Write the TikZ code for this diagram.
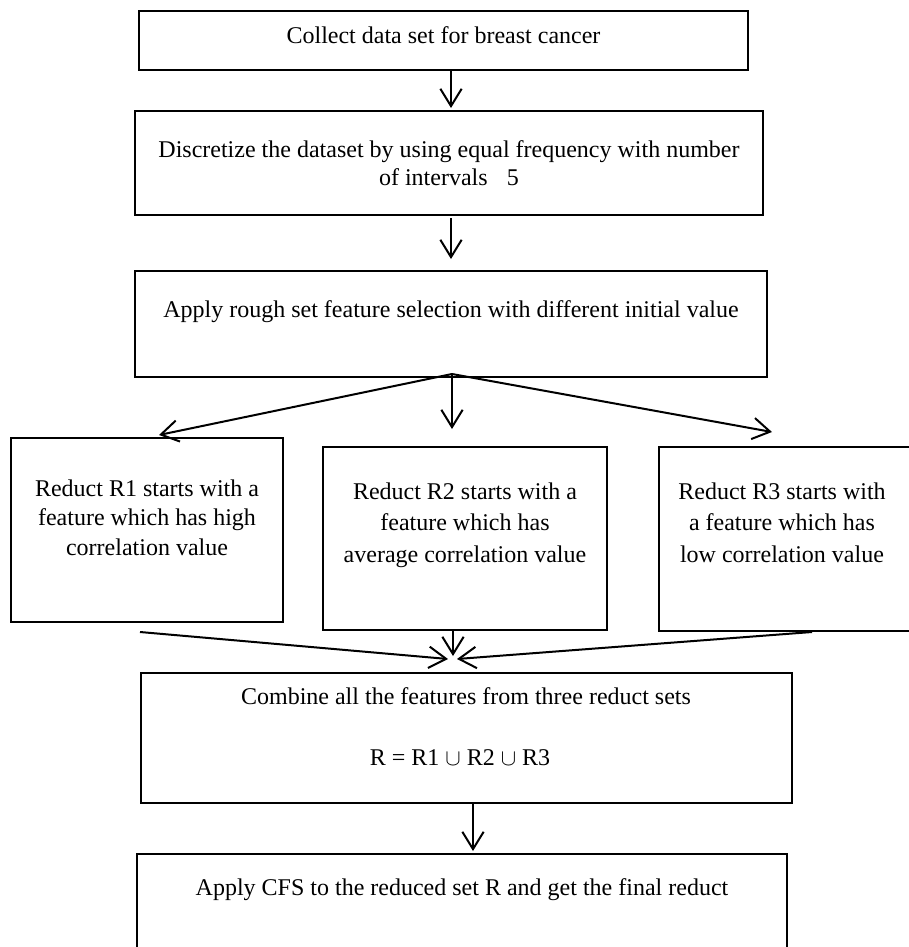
\documentclass[tikz,border=0pt]{standalone}
\usepackage{fontspec}
\setmainfont{Liberation Serif}
\usetikzlibrary{arrows.meta}
\begin{document}
\begin{tikzpicture}[x=0.75pt,y=-0.75pt,
  box/.style={draw, line width=1.4pt, inner sep=0pt, outer sep=0pt},
  txt/.style={inner sep=0pt, align=center, anchor=base, font=\fontsize{18pt}{21pt}\selectfont},
  arr/.style={line width=1.5pt, -{Straight Barb[length=13pt,width=16pt,line width=1.5pt]}},
  ln/.style={line width=1.5pt}]
\useasboundingbox (0,0) rectangle (909,947);
\clip (0,0) rectangle (909,947);
% boxes
\node[box, minimum width=456.75pt, minimum height=44.25pt] (b1) at (443.5,40.5) {};
\node[box, minimum width=471pt, minimum height=78pt] (b2) at (449,163) {};
\node[box, minimum width=474pt, minimum height=79.5pt] (b3) at (451,324) {};
\node[box, minimum width=204pt, minimum height=138pt] (r1) at (147,530) {};
\node[box, minimum width=213pt, minimum height=137.25pt] (r2) at (465,538.5) {};
\node[box, minimum width=189.75pt, minimum height=138pt] (r3) at (785.5,539) {};
\node[box, minimum width=488.25pt, minimum height=97.5pt] (c) at (466.5,738) {};
\node[box, minimum width=487.5pt, minimum height=79.5pt] (f) at (462,907) {};
% texts (base anchor = baseline of the last line)
\node[txt] (t1) at (443.5,43) {Collect data set for breast cancer};
\node[txt] (t2) at (449,185) {Discretize the dataset by using equal frequency with number\\of intervals\hspace{0.8em}5};
\node[txt] (t3) at (451,317) {Apply rough set feature selection with different initial value};
\node[txt, font=\fontsize{18pt}{22pt}\selectfont] (tr1) at (147,555) {Reduct R1 starts with a\\feature which has high\\correlation value};
\node[txt, font=\fontsize{18pt}{23.5pt}\selectfont] (tr2) at (465,562) {Reduct R2 starts with a\\feature which has\\average correlation value};
\node[txt, font=\fontsize{18pt}{23.5pt}\selectfont] (tr3) at (782,562) {Reduct R3 starts with\\a feature which has\\low correlation value};
\node[txt] (tc1) at (466,704) {Combine all the features from three reduct sets};
\node[txt] (tc2) at (460,765) {R = R1 $\cup$ R2 $\cup$ R3};
\node[txt] (tf) at (462,895) {Apply CFS to the reduced set R and get the final reduct};
% helper coordinates
\coordinate (ax) at (451,0);
\coordinate (s) at (452,374);
\coordinate (p1) at (159,435);
\coordinate (p2) at (452,429);
\coordinate (p3) at (772,432);
\coordinate (u1) at (140,632);
\coordinate (q1) at (448,659);
\coordinate (u2) at (453,630);
\coordinate (q2) at (453,656);
\coordinate (u3) at (812,632);
\coordinate (q3) at (457,659);
\coordinate (bx) at (473,0);
% connectors
\draw[arr, shorten >=2.25pt] (b1.south -| ax) -- (b2.north -| ax);
\draw[arr, shorten <=2.25pt, shorten >=9pt] (b2.south -| ax) -- (b3.north -| ax);
\draw[arr] (s) -- (p1);
\draw[arr] (s) -- (p2);
\draw[arr] (s) -- (p3);
\draw[arr] (u1) -- (q1);
\draw[arr] (u2) -- (q2);
\draw[arr] (u3) -- (q3);
\draw[arr, shorten >=2.25pt] (c.south -| bx) -- (f.north -| bx);
\end{tikzpicture}
\end{document}
